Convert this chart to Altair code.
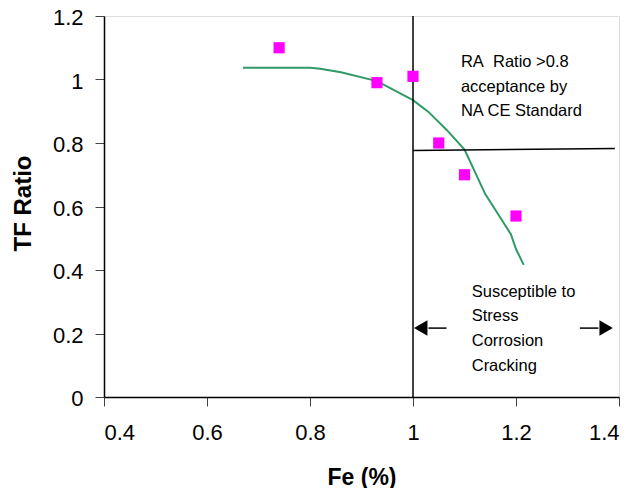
import altair as alt
import pandas as pd

# Measured data points (pink squares)
fe_pts = [0.74, 0.93, 1.00, 1.05, 1.10, 1.20]
tf_pts = [1.10, 0.99, 1.01, 0.80, 0.70, 0.57]

# Trend curve (green)
fe_curve = [0.67, 0.72, 0.80, 0.82, 0.86, 0.93, 1.00, 1.03, 1.065, 1.10, 1.12, 1.14, 1.17, 1.19, 1.20, 1.215]
tf_curve = [1.037, 1.037, 1.037, 1.034, 1.023, 0.995, 0.935, 0.898, 0.842, 0.779, 0.71, 0.64, 0.564, 0.513, 0.466, 0.416]

# Threshold lines
vline_x = [1.0]
vline_y = [0.0]
vline_y2 = [1.2]
hline_x = [1.0, 1.392]
hline_y = [0.776, 0.783]

# Annotations
note1_lines = ["RA\u00a0 Ratio >0.8", "acceptance by", "NA CE Standard"]
note1_y = [1.055, 0.976, 0.901]
note1_x = 1.093
note2_lines = ["Susceptible to", "Stress", "Corrosion", "Cracking"]
note2_y = [0.332, 0.254, 0.175, 0.097]
note2_x = 1.114

# Arrows
arrow_y = 0.217
shaft_x = [1.03, 1.324]
shaft_x2 = [1.065, 1.36]
head_x = [1.015, 1.375]
head_shape = ["triangle-left", "triangle-right"]

x_ticks = [0.4, 0.6, 0.8, 1.0, 1.2, 1.4]
y_ticks = [0, 0.2, 0.4, 0.6, 0.8, 1.0, 1.2]

xs = alt.Scale(domain=[0.4, 1.4], nice=False, zero=False)
ys = alt.Scale(domain=[0, 1.2], nice=False)

FONT = "Liberation Sans"

x_axis = alt.Axis(values=x_ticks, format="~g", title="Fe (%)", grid=False,
                  domainColor="black", domainWidth=1.5, tickColor="#444", tickSize=9,
                  labelFontSize=22, labelFont=FONT, labelColor="black", labelPadding=16,
                  titleFont=FONT, titleFontSize=23, titleFontWeight="bold", titleColor="black",
                  titleY=80, titleBaseline="middle")
y_axis = alt.Axis(values=y_ticks, format="~g", title="TF Ratio", grid=False,
                  domainColor="black", domainWidth=1.5, tickColor="#444", tickSize=9,
                  labelFontSize=22, labelFont=FONT, labelColor="black", labelPadding=12,
                  labelOffset=1.5,
                  titleFont=FONT, titleFontSize=24, titleFontWeight="bold", titleColor="black",
                  titleX=-81, titleY=187, titleBaseline="middle", titleAngle=-90)

pts = pd.DataFrame({"fe": fe_pts, "tf": tf_pts})
curve = pd.DataFrame({"fe": fe_curve, "tf": tf_curve})
vline = pd.DataFrame({"fe": vline_x, "tf": vline_y, "tf2": vline_y2})
hline = pd.DataFrame({"fe": hline_x, "tf": hline_y})
n1 = pd.DataFrame({"fe": [note1_x] * len(note1_lines), "tf": note1_y, "t": note1_lines})
n2 = pd.DataFrame({"fe": [note2_x] * len(note2_lines), "tf": note2_y, "t": note2_lines})
shafts = pd.DataFrame({"fe": shaft_x, "fe2": shaft_x2, "tf": [arrow_y] * 2})
heads = pd.DataFrame({"fe": head_x, "tf": [arrow_y] * 2, "shape": head_shape})

base_x = alt.X("fe:Q", scale=xs, axis=x_axis)
base_y = alt.Y("tf:Q", scale=ys, axis=y_axis)

curve_layer = alt.Chart(curve).mark_line(color="#2E9A66", strokeWidth=2).encode(
    x=base_x, y=base_y, order="fe:Q")
vline_layer = alt.Chart(vline).mark_rule(color="black", strokeWidth=1.5).encode(
    x="fe:Q", y="tf:Q", y2="tf2:Q")
hline_layer = alt.Chart(hline).mark_line(color="black", strokeWidth=1.5).encode(
    x="fe:Q", y="tf:Q")
pts_layer = alt.Chart(pts).mark_square(color="#FF00FF", size=125, opacity=1).encode(
    x="fe:Q", y="tf:Q")
n1_layer = alt.Chart(n1).mark_text(align="left", baseline="middle", font=FONT, fontSize=16.5,
                                   color="black").encode(x="fe:Q", y="tf:Q", text="t:N")
n2_layer = alt.Chart(n2).mark_text(align="left", baseline="middle", font=FONT, fontSize=16.5,
                                   color="black").encode(x="fe:Q", y="tf:Q", text="t:N")
shaft_layer = alt.Chart(shafts).mark_rule(color="black", strokeWidth=1.5).encode(
    x="fe:Q", x2="fe2:Q", y="tf:Q")
head_layer = alt.Chart(heads).mark_point(filled=True, color="black", size=240, opacity=1).encode(
    x="fe:Q", y="tf:Q",
    shape=alt.Shape("shape:N", scale=None, legend=None))

chart = alt.layer(curve_layer, vline_layer, hline_layer, pts_layer, n1_layer, n2_layer,
                  shaft_layer, head_layer).properties(
    width=515, height=381,
    autosize=alt.AutoSizeParams(type="none"),
    padding={"left": 96, "top": 8, "right": 10, "bottom": 91},
).configure_view(stroke="#8a8a8a", strokeWidth=1.5).configure(background="white")

chart.save("out.html", embed_options={"renderer": "svg", "actions": False})
